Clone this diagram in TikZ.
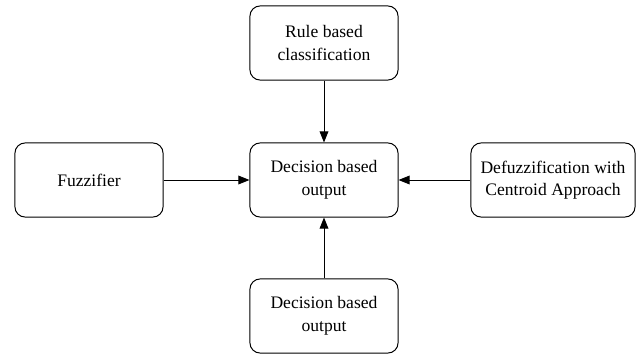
\documentclass[tikz,border=0pt]{standalone}
\usepackage{fontspec}
\setmainfont{Liberation Serif}
\usetikzlibrary{arrows.meta}

\begin{document}
\begin{tikzpicture}[x=0.025cm, y=-0.025cm,
blk/.style={draw, line width=0.7pt, rounded corners=0.25cm, minimum width=3.7cm, minimum height=1.85cm, align=center, font=\fontsize{12.5}{16}\selectfont},
con/.style={line width=0.7pt, -{Triangle[length=0.28cm, width=0.22cm]}}]
\useasboundingbox (0,0) rectangle (640,355);
\node[blk] (dec) at (324,180) {Decision based\\output};
\node[blk] (rule) at (324,43) {Rule based\\classification};
\node[blk] (fuzz) at (89,180) {Fuzzifier};
\node[blk, minimum width=4.1cm] (defuzz) at (553,180) {Defuzzification with\\Centroid Approach};
\node[blk] (out) at (324,316) {Decision based\\output};
\draw[con] (rule) -- (dec);
\draw[con] (fuzz) -- (dec);
\draw[con] (defuzz) -- (dec);
\draw[con] (out) -- (dec);
\end{tikzpicture}
\end{document}
